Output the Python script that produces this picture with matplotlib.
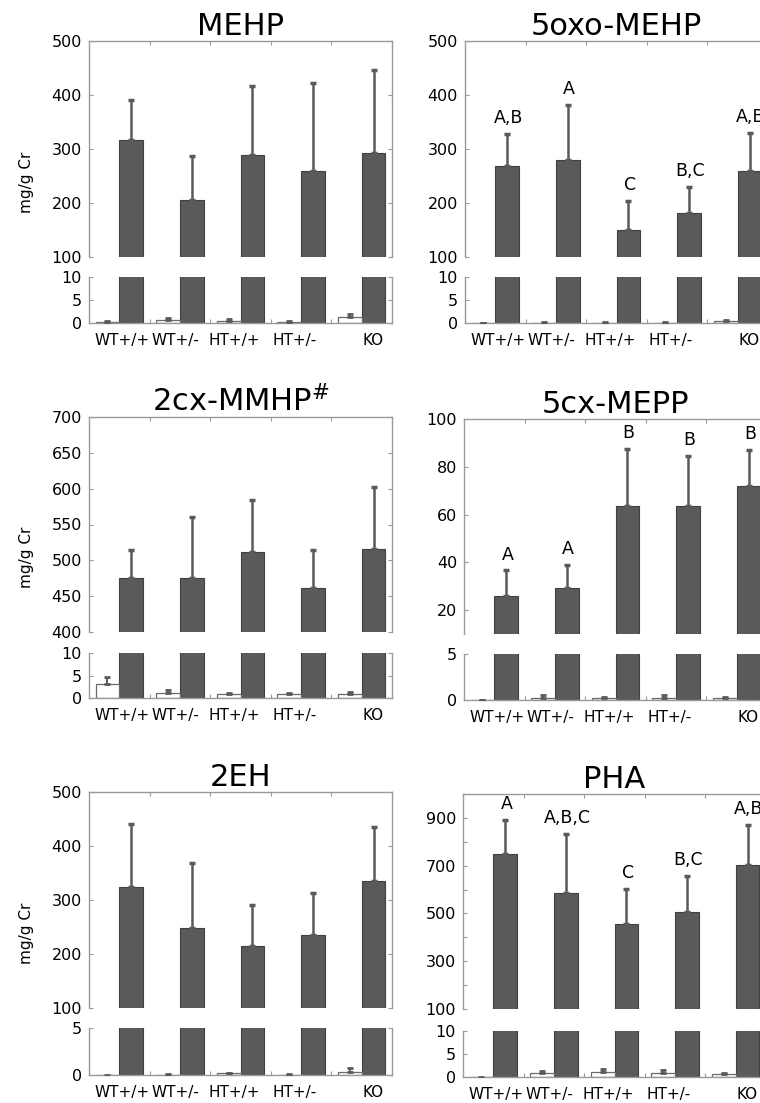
import numpy as np
import matplotlib
matplotlib.use("Agg")
import matplotlib.pyplot as plt
from matplotlib.ticker import MultipleLocator

plt.rcParams['font.family'] = ['DejaVu Sans']

# group labels
groups = ['WT+/+', 'WT+/-', 'HT+/+', 'HT+/-', 'KO']
nan = np.nan

# MEHP
mehp_dark = [317, 206, 288, 260, 293]
mehp_dark_err = [73, 81, 129, 162, 154]
mehp_ctrl = [0.2, 0.65, 0.45, 0.3, 1.2]
mehp_ctrl_err = [0.15, 0.45, 0.35, 0.15, 0.8]
mehp_ticks = [100, 200, 300, 400, 500]

# 5oxo-MEHP
oxo_dark = [268, 280, 150, 182, 260]
oxo_dark_err = [59, 101, 53, 47, 70]
oxo_ctrl = [0.0, 0.1, 0.1, 0.1, 0.4]
oxo_ctrl_err = [0.1, 0.1, 0.2, 0.1, 0.2]
oxo_letters = ['A,B', 'A', 'C', 'B,C', 'A,B']
oxo_ticks = [100, 200, 300, 400, 500]

# 2cx-MMHP
cx2_dark = [476, 475, 512, 461, 516]
cx2_dark_err = [38, 85, 72, 53, 87]
cx2_ctrl = [3.1, 1.1, 0.95, 0.9, 0.95]
cx2_ctrl_err = [1.6, 0.7, 0.25, 0.2, 0.35]
cx2_ticks = [400, 450, 500, 550, 600, 650, 700]

# 5cx-MEPP
cx5_dark = [26.1, 29.3, 63.7, 63.4, 72.0]
cx5_dark_err = [10.5, 9.4, 23.7, 21.1, 15.2]
cx5_ctrl = [0.0, 0.25, 0.18, 0.18, 0.18]
cx5_ctrl_err = [0.03, 0.3, 0.15, 0.37, 0.18]
cx5_letters = ['A', 'A', 'B', 'B', 'B']
cx5_ticks = [20, 40, 60, 80, 100]

# 2EH
eh_dark = [325, 249, 214, 236, 335]
eh_dark_err = [116, 120, 76, 77, 101]
eh_ctrl = [0.0, 0.05, 0.18, 0.05, 0.36]
eh_ctrl_err = [nan, 0.05, 0.02, 0.05, 0.34]
eh_ticks = [100, 200, 300, 400, 500]

# PHA
pha_dark = [747, 586, 456, 506, 702]
pha_dark_err = [143, 247, 146, 150, 167]
pha_ctrl = [0.0, 0.95, 1.15, 0.95, 0.6]
pha_ctrl_err = [nan, 0.45, 0.65, 0.5, 0.35]
pha_letters = ['A', 'A,B,C', 'C', 'B,C', 'A,B']
pha_ticks = [100, 300, 500, 700, 900]

panels = [
    dict(title='MEHP', dark=mehp_dark, derr=mehp_dark_err, ctrl=mehp_ctrl, cerr=mehp_ctrl_err,
         letters=None, ylim=(100, 500), ticks=mehp_ticks, minor=None, low=(0, 10, 5)),
    dict(title='5oxo-MEHP', dark=oxo_dark, derr=oxo_dark_err, ctrl=oxo_ctrl, cerr=oxo_ctrl_err,
         letters=oxo_letters, ylim=(100, 500), ticks=oxo_ticks, minor=None, low=(0, 10, 5)),
    dict(title='2cx-MMHP$^{\\#}$', dark=cx2_dark, derr=cx2_dark_err, ctrl=cx2_ctrl, cerr=cx2_ctrl_err,
         letters=None, ylim=(400, 700), ticks=cx2_ticks, minor=None, low=(0, 10, 5)),
    dict(title='5cx-MEPP', dark=cx5_dark, derr=cx5_dark_err, ctrl=cx5_ctrl, cerr=cx5_ctrl_err,
         letters=cx5_letters, ylim=(10, 100), ticks=cx5_ticks, minor=None, low=(0, 5, 5)),
    dict(title='2EH', dark=eh_dark, derr=eh_dark_err, ctrl=eh_ctrl, cerr=eh_ctrl_err,
         letters=None, ylim=(100, 500), ticks=eh_ticks, minor=None, low=(0, 5, 5)),
    dict(title='PHA', dark=pha_dark, derr=pha_dark_err, ctrl=pha_ctrl, cerr=pha_ctrl_err,
         letters=pha_letters, ylim=(100, 1000), ticks=pha_ticks, minor=100, low=(0, 10, 5)),
]

# pixel layout (left, width, upper top, upper bottom, lower top, lower bottom)
W, H = 760, 1103
boxes = [
    (89, 303, 41, 257, 277, 323),
    (465, 303, 41, 257, 277, 323),
    (89, 303, 417, 632, 653, 698),
    (464, 303, 419, 634, 654, 700),
    (89, 303, 792, 1008, 1028, 1075),
    (463, 303, 794, 1009, 1031, 1077),
]

dark_col = '#5a5a5a'
edge_col = '#404040'
spine_col = '#9a9a9a'
label_pos = [0.55, 1.42, 2.4, 3.4, 4.68]

fig = plt.figure(figsize=(W / 100, H / 100), dpi=100)

for p, (x0, w, ut, ub, lt, lb) in zip(panels, boxes):
    ax_up = fig.add_axes([x0 / W, 1 - ub / H, w / W, (ub - ut) / H])
    ax_lo = fig.add_axes([x0 / W, 1 - lb / H, w / W, (lb - lt) / H])
    xs = np.arange(5)
    xc = xs + 0.305
    xd = xs + 0.695

    for ax in (ax_up, ax_lo):
        ax.bar(xd, p['dark'], width=0.39, color=dark_col, edgecolor=edge_col, linewidth=0.8, zorder=2)
        ax.set_xlim(0, 5)
        for s in ax.spines.values():
            s.set_color(spine_col)
            s.set_linewidth(1.0)
        ax.tick_params(axis='both', direction='in', length=3, width=0.8, color=spine_col,
                       labelsize=11.5, pad=5)
        ax.tick_params(axis='y', left=True, right=True)
        ax.tick_params(axis='y', which='minor', direction='in', length=3, width=0.8,
                       color=spine_col, left=True, right=True)
        ax.set_xticks([1, 2, 3, 4])
        ax.set_xticklabels([])

    # upper part: treated bars with upward error bars
    ax_up.errorbar(xd, p['dark'], yerr=[np.zeros(5), p['derr']], fmt='none',
                   ecolor=dark_col, elinewidth=1.8, capsize=2, capthick=2.5, zorder=3)
    ax_up.set_ylim(*p['ylim'])
    ax_up.set_yticks(p['ticks'])
    if p['minor']:
        ax_up.yaxis.set_minor_locator(MultipleLocator(p['minor']))
    ax_up.spines['bottom'].set_visible(False)
    ax_up.tick_params(axis='x', top=True, bottom=False)
    ax_up.set_title(p['title'], fontsize=22, pad=4)

    if p['letters']:
        for x, v, e, t in zip(xd, p['dark'], p['derr'], p['letters']):
            ax_up.annotate(t, (x, v + e), xytext=(1, 5), textcoords='offset points',
                           ha='center', va='bottom', fontsize=12.5)

    # lower part: control bars
    ax_lo.bar(xc, p['ctrl'], width=0.39, color='white', edgecolor='#6a6a6a', linewidth=0.9, zorder=2)
    ax_lo.errorbar(xc, p['ctrl'], yerr=[np.zeros(5), p['cerr']], fmt='none',
                   ecolor=dark_col, elinewidth=1.4, capsize=2, capthick=2, zorder=3)
    llo, lhi, lstep = p['low']
    ax_lo.set_ylim(llo, lhi)
    ax_lo.set_yticks(np.arange(llo, lhi + 1, lstep))
    ax_lo.spines['top'].set_visible(False)
    ax_lo.tick_params(axis='x', top=False, bottom=True)
    ax_lo.set_xticks(label_pos, groups, minor=True)
    ax_lo.tick_params(axis='x', which='minor', length=0, labelsize=11, pad=7)

# y-axis titles on left column
for (x0, w, ut, ub, lt, lb) in boxes[0::2]:
    fig.text(26 / W, 1 - ((ut + lb) / 2) / H, 'mg/g Cr', rotation=90,
             ha='center', va='center', fontsize=11)

fig.savefig('out.png', dpi=100)
